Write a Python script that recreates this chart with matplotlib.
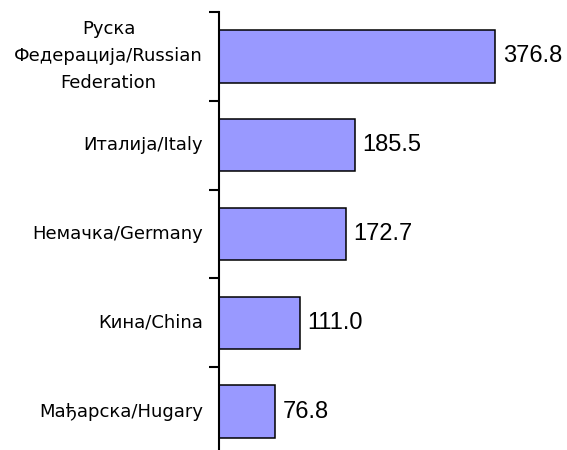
import matplotlib
matplotlib.use("Agg")
import matplotlib.pyplot as plt
import numpy as np

plt.rcParams["font.family"] = ["Liberation Sans", "DejaVu Sans"]

# Data
countries = [
    "Руска\nФедерација/Russian\nFederation",
    "Италија/Italy",
    "Немачка/Germany",
    "Кина/China",
    "Мађарска/Hugary",
]
values = [376.8, 185.5, 172.7, 111.0, 76.8]

fig = plt.figure(figsize=(5.67, 4.5), dpi=100)
ax = fig.add_axes([219 / 567, -6 / 450, 341 / 567, 444 / 450])

pos = np.arange(len(countries))
ax.barh(pos, values, height=0.59, color="#9999FF", edgecolor="black", linewidth=1.1)

for y, v in zip(pos, values):
    ax.text(v + 10, y, f"{v:.1f}", va="center", ha="left", fontsize=17)

ax.set_xlim(0, 465)
ax.set_ylim(len(countries) - 0.5, -0.5)

# boundary ticks
ax.set_yticks(np.arange(-0.5, len(countries) + 0.5, 1))
ax.set_yticklabels([])
ax.tick_params(axis="y", which="major", length=7, width=1.5, direction="out")

# category labels (wider face to match the spaced-out original)
ax.set_yticks(pos, minor=True)
ax.set_yticklabels(countries, minor=True, fontsize=13, multialignment="center",
                   linespacing=1.65, family="DejaVu Sans", va="center")
ax.tick_params(axis="y", which="minor", length=0, pad=11.5)

ax.set_xticks([])
for s in ["top", "right", "bottom"]:
    ax.spines[s].set_visible(False)
ax.spines["left"].set_linewidth(1.5)

fig.savefig("out.png", dpi=100)
